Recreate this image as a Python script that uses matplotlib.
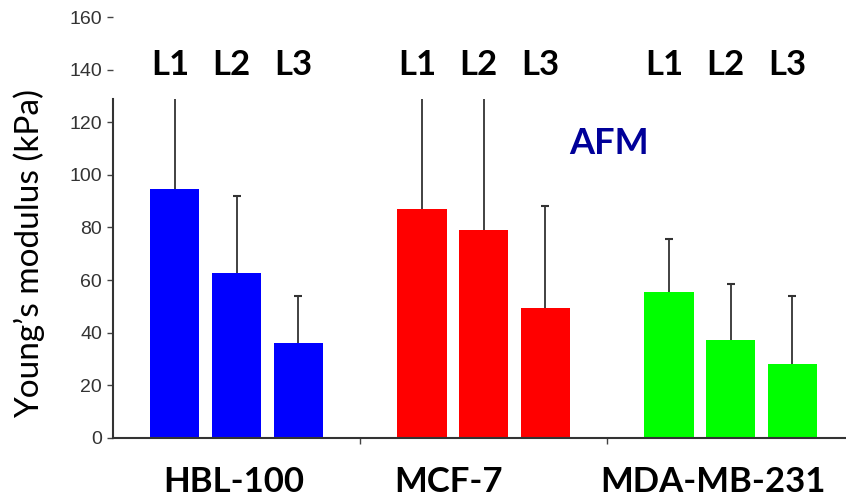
import matplotlib
matplotlib.use("Agg")
import matplotlib.pyplot as plt
from matplotlib.patches import Rectangle

# cell lines and layer labels
groups = ["HBL-100", "MCF-7", "MDA-MB-231"]
layers = ["L1", "L2", "L3"]

# Young's modulus (kPa), mean and upper error per layer
hbl_mean = [94.5, 62.5, 36.0]
hbl_err = [45.0, 29.5, 18.0]
mcf_mean = [87.0, 79.0, 49.5]
mcf_err = [55.0, 60.0, 38.5]
mda_mean = [55.5, 37.0, 28.0]
mda_err = [20.0, 21.5, 26.0]

colors = ["#0000ff", "#ff0000", "#00ff00"]

fig = plt.figure(figsize=(8.46, 5.0), dpi=100)
ax = fig.add_axes([0.1336, 0.1246, 0.876, 0.841])

offsets = [0.25, 0.5, 0.75]
width = 0.2
series = [(hbl_mean, hbl_err), (mcf_mean, mcf_err), (mda_mean, mda_err)]
for g, (means, errs) in enumerate(series):
    xs = [g + o for o in offsets]
    ax.bar(xs, means, width=width, color=colors[g], zorder=2)
    eb = ax.errorbar(xs, means, yerr=[[0] * 3, errs], fmt="none", ecolor="#333333",
                     elinewidth=1.3, capsize=3, capthick=1.5, zorder=1)
    # only the upper cap is shown
    eb[1][0].set_visible(False)
    for x, lab in zip(xs, layers):
        ax.text(x - 0.02, 142, lab, ha="center", va="center", fontsize=25,
                fontweight="bold", family="Lato", zorder=5)

# white band over the top of the plot (labels sit on it)
ax.add_patch(Rectangle((0.006, 129), 3.5, 40, facecolor="white",
                       edgecolor="none", zorder=4, clip_on=False))

# cell line names under the axis
for x, name in zip([0.49, 1.356, 2.43], groups):
    ax.text(x, -17, name, ha="center", va="center", fontsize=25,
            fontweight="bold", family="Lato")

ax.text(2.008, 112, "AFM", ha="center", va="center", fontsize=26,
        fontweight="bold", color="#000099", family="Lato", zorder=5)

ax.set_xlim(0, 3)
ax.set_ylim(0, 160)
ax.set_yticks(range(0, 161, 20))
ax.set_xticks([1, 2])
ax.set_xticklabels([])
ax.tick_params(axis="y", length=4, width=1, color="#444444", pad=4,
               labelsize=14, labelcolor="#333333")
ax.tick_params(axis="x", length=4, width=1, color="#444444")
for lab in ax.get_yticklabels():
    lab.set_family("Liberation Sans")

ax.spines["top"].set_visible(False)
ax.spines["right"].set_visible(False)
ax.spines["left"].set_bounds(0, 129)
for s in ["left", "bottom"]:
    ax.spines[s].set_color("#333333")
    ax.spines[s].set_linewidth(1.5)

fig.text(0.034, 0.492, "Young\u2019s modulus (kPa)", rotation=90, ha="center",
         va="center", fontsize=24, family="Lato")

fig.savefig("out.png", dpi=100)
